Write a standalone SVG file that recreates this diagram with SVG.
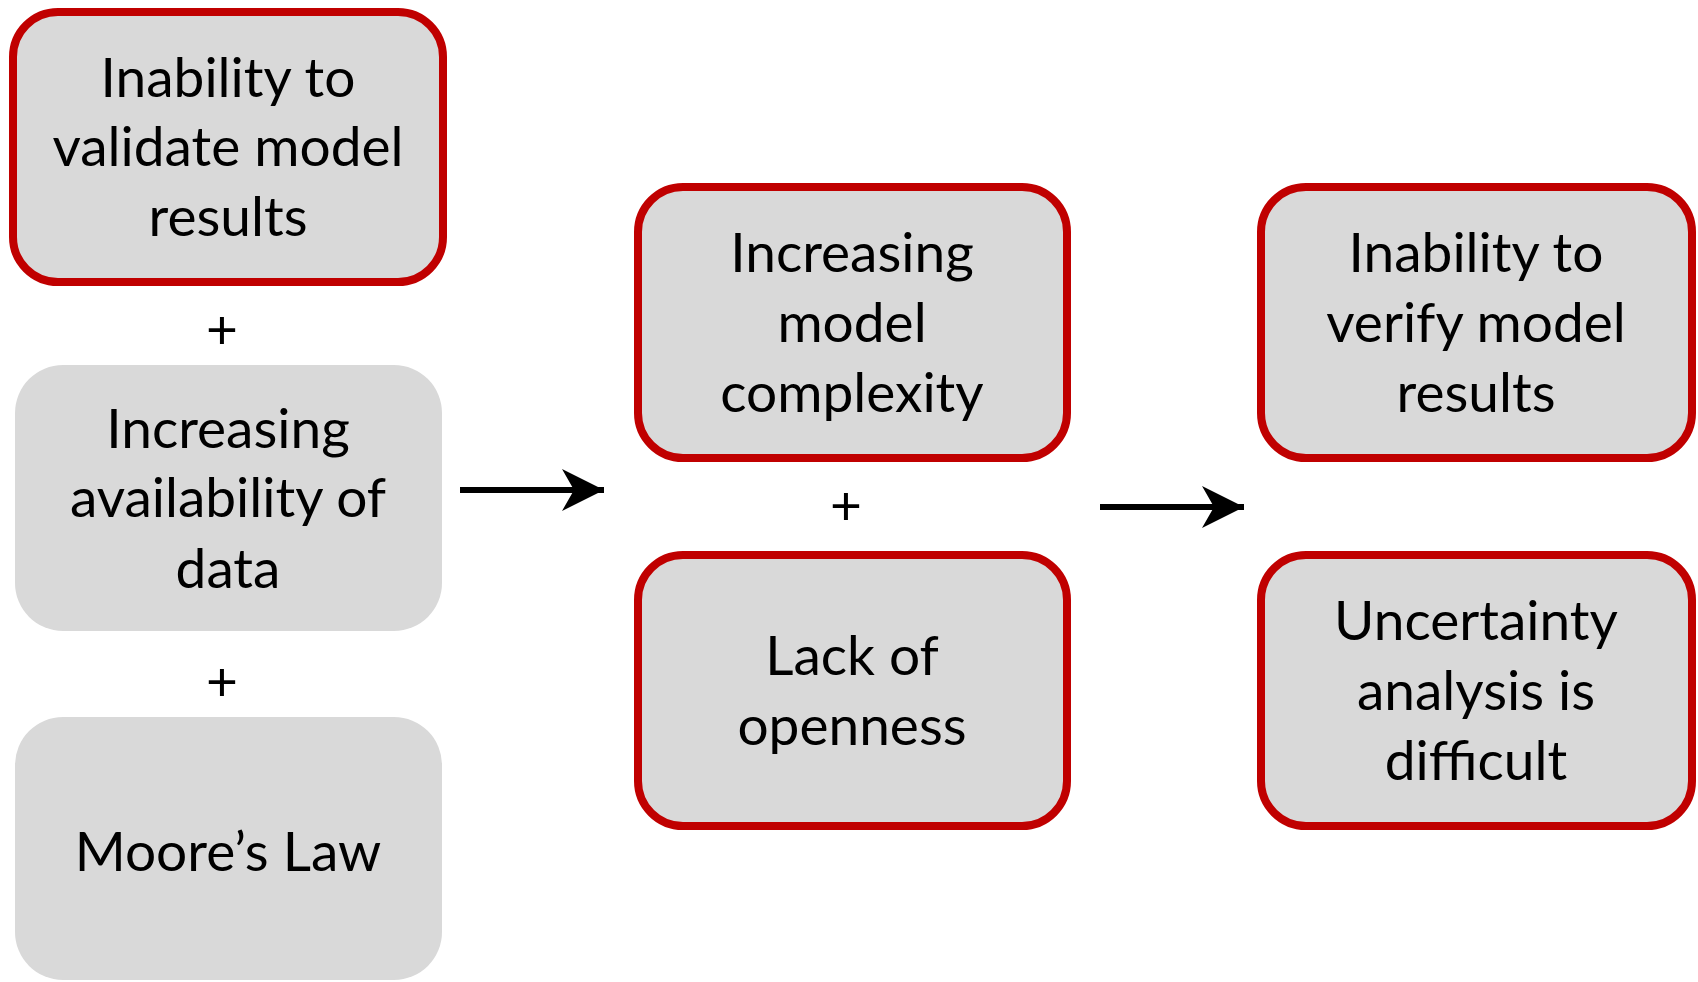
<svg xmlns="http://www.w3.org/2000/svg" width="1698" height="982" viewBox="0 0 1698 982">
<style>
.box{fill:#d9d9d9}
.red{fill:#d9d9d9;stroke:#c00000;stroke-width:8}
text{font-family:Lato,"Liberation Sans",sans-serif;font-size:55px;fill:#000;text-anchor:middle}
.conn{stroke:#000;stroke-width:6;fill:none}
</style>
<defs>
<marker id="ah" markerUnits="userSpaceOnUse" markerWidth="46" markerHeight="44" refX="42" refY="22" orient="auto">
<path d="M0,1 L42,22 L0,43 L12,22 Z" fill="#000"/>
</marker>
</defs>
<rect width="1698" height="982" fill="#fff"/>
<g id="n1"><rect class="red" x="13" y="12" width="430" height="270" rx="45"/>
<text x="228" y="97">Inability to</text><text x="228" y="166">validate model</text><text x="228" y="236">results</text></g>
<g id="n2"><rect class="box" x="15" y="365" width="427" height="266" rx="48"/>
<text x="228" y="448">Increasing</text><text x="228" y="517">availability of</text><text x="228" y="588">data</text></g>
<g id="n3"><rect class="box" x="15" y="717" width="427" height="263" rx="48"/>
<text x="228" y="871">Moore’s Law</text></g>
<g id="n4"><rect class="red" x="638" y="187" width="429" height="271" rx="45"/>
<text x="852" y="272">Increasing</text><text x="852" y="342">model</text><text x="852" y="412">complexity</text></g>
<g id="n5"><rect class="red" x="638" y="555" width="429" height="271" rx="45"/>
<text x="852" y="675">Lack of</text><text x="852" y="745">openness</text></g>
<g id="n6"><rect class="red" x="1261" y="187" width="431" height="271" rx="45"/>
<text x="1476" y="272">Inability to</text><text x="1476" y="342">verify model</text><text x="1476" y="412">results</text></g>
<g id="n7"><rect class="red" x="1261" y="555" width="431" height="271" rx="45"/>
<text x="1476" y="640">Uncertainty</text><text x="1476" y="710">analysis is</text><text x="1476" y="780">difficult</text></g>
<g id="plus">
<text x="222" y="349">+</text><text x="222" y="701">+</text><text x="846" y="525">+</text>
</g>
<g id="connectors">
<line class="conn" x1="460" y1="490" x2="604" y2="490" marker-end="url(#ah)"/>
<line class="conn" x1="1100" y1="507" x2="1244" y2="507" marker-end="url(#ah)"/>
</g>
</svg>
